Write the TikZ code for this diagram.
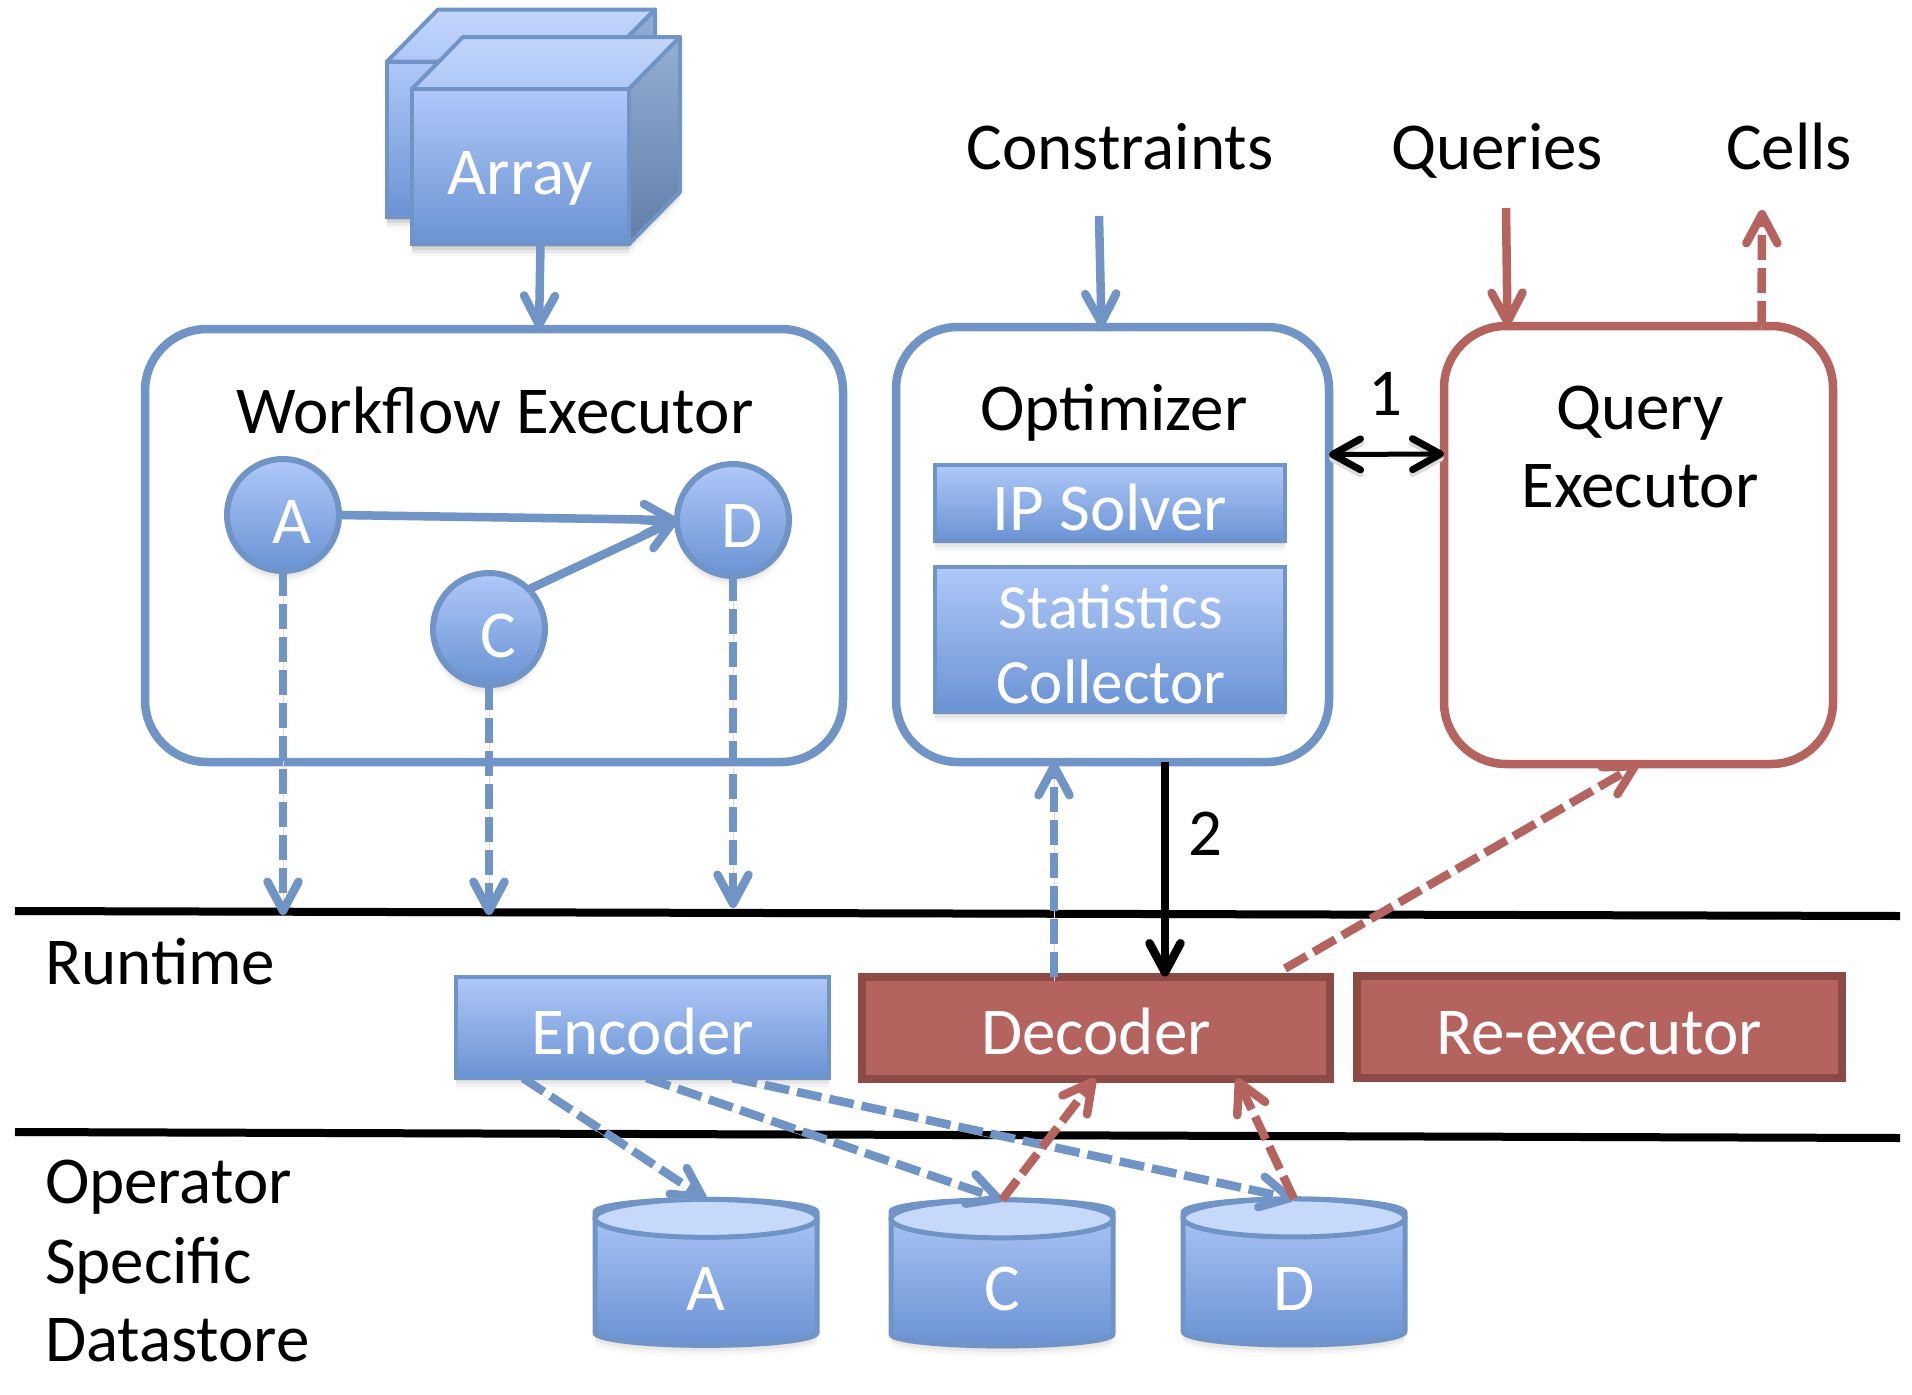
\documentclass[tikz,border=0pt]{standalone}
\usepackage{fontspec}
\setmainfont{Carlito}
\usetikzlibrary{arrows.meta,shadows,shapes.geometric}
\definecolor{blueline}{HTML}{7094C6}
\definecolor{bluetop}{HTML}{AFC8F8}
\definecolor{bluebot}{HTML}{6A93D4}
\definecolor{redline}{HTML}{B5635F}
\definecolor{redfill}{HTML}{B5635F}
\definecolor{reddark}{HTML}{8C4B47}
\begin{document}
\begin{tikzpicture}[x=1pt,y=-1pt,
    every node/.style={font=\fontsize{67}{78}\selectfont,inner sep=0pt,outer sep=0pt},
    softshadow/.style={
        drop shadow={shadow xshift=0pt,shadow yshift=-3pt,opacity=.14},
        drop shadow={shadow xshift=0pt,shadow yshift=-6pt,opacity=.10},
        drop shadow={shadow xshift=0pt,shadow yshift=-9pt,opacity=.06},
        drop shadow={shadow xshift=0pt,shadow yshift=-12pt,opacity=.03}},
    lift/.style={text height=#1,text depth=0pt},
    bluebox/.style={draw=blueline,line width=4pt,top color=bluetop,bottom color=bluebot,text=white,softshadow},
    redbox/.style={draw=reddark,line width=8pt,fill=redfill,text=white},
    roundbox/.style={draw=#1,line width=8.5pt,rounded corners=62pt,fill=white},
    blueball/.style={bluebox,line width=6pt,circle,minimum size=112pt,execute at begin node={\hspace*{18pt}}},
    bluedb/.style={bluebox,line width=5pt,cylinder,shape border rotate=90,aspect=.66,minimum width=222pt,minimum height=146pt},
    tipbarb/.style={-{Straight Barb[length=29pt,width=31pt,round]}},
    linesoft/.style={preaction={draw=black!14,transform canvas={yshift=-4pt}}},
    flow/.style={draw=#1,line width=8.5pt,tipbarb,linesoft},
    flowdash/.style={flow=#1,dash pattern=on 25pt off 8pt},
    rule/.style={draw=black,line width=8pt,linesoft},
]
    \useasboundingbox (0,0) rectangle (1912,1395);

    % free ends
    \coordinate (runl) at (15,911);
    \coordinate (runr) at (1900,916);
    \coordinate (opl) at (15,1132);
    \coordinate (opr) at (1900,1138);
    \coordinate (constrend) at (1099,216);
    \coordinate (queryend) at (1506,208);
    \coordinate (cellend) at (1762,210);
    \coordinate (tipa) at (283,915);
    \coordinate (tipc) at (489,915);
    \coordinate (tipd) at (733,908);

    % array cubes
    \foreach \cubex/\cubey/\cubename/\cubetext in {495.5/139/arrayback/,520.5/166.5/array/Array} {
        \path[softshadow] (\cubex-108.5,\cubey-77.5) -- ++(51,-52) -- ++(217,0) -- ++(0,155) -- ++(-51,52) -- ++(-217,0) -- cycle;
        \node[bluebox,lift=55pt,minimum width=217pt,minimum height=155pt] (\cubename) at (\cubex,\cubey) {\cubetext};
        \shade[draw=blueline,line width=4pt,line join=round,top color=bluetop!75!white,bottom color=bluetop] (\cubename.north west) -- ++(51,-52) -- ++(217,0) -- ++(-51,52) -- cycle;
        \shade[draw=blueline,line width=4pt,line join=round,top color=blueline!75!white,bottom color=blueline!85!black] (\cubename.north east) -- ++(51,-52) -- ++(0,155) -- ++(-51,52) -- cycle;
    }

    % main blocks
    \node[roundbox=blueline] (we) at (494,545.5) [minimum width=698pt,minimum height=433pt] {};
    \node[roundbox=blueline] (opt) at (1112.5,544.5) [minimum width=433pt,minimum height=435pt] {};
    \node[roundbox=redline] (qry) at (1638.5,545) [minimum width=389pt,minimum height=438pt] {};
    \node[anchor=base] (wetext) at (495,433) {Workflow Executor};
    \node[anchor=base] (opttext) at (1114,430) {Optimizer};
    \node[anchor=base] (qrytexta) at (1640,429) {Query};
    \node[anchor=base] (qrytextb) at (1640,507) {Executor};

    % inner blocks
    \node[bluebox,lift=55pt,minimum width=350pt,minimum height=76pt] (ip) at (1110,503) {IP Solver};
    \node[bluebox,minimum width=350pt,minimum height=145pt] (stat) at (1110,639.5) {};
    \node[anchor=base,text=white,font=\fontsize{63}{74}\selectfont] (stata) at (1111,628) {Statistics};
    \node[anchor=base,text=white,font=\fontsize{63}{74}\selectfont] (statb) at (1111,703) {Collector};

    % workflow graph
    \node[blueball,lift=56pt] (a) at (283,515) {A};
    \node[blueball,lift=54pt] (d) at (733,520) {D};
    \node[blueball,lift=56pt] (c) at (489,629) {C};

    % runtime and datastore boxes
    \node[bluebox,lift=54pt,minimum width=373pt,minimum height=101pt] (enc) at (642.5,1027.5) {Encoder};
    \node[redbox,lift=54pt,minimum width=468pt,minimum height=102pt] (dec) at (1096,1027.5) {Decoder};
    \node[redbox,lift=54pt,minimum width=485pt,minimum height=102pt] (reex) at (1599,1027) {Re-executor};
    \foreach \dbx/\dbname/\dbtext in {706/dba/A,1002/dbc/C,1294/dbd/D} {
        \node[bluedb,lift=61pt] (\dbname) at (\dbx,1280) {\dbtext};
        \fill[draw=blueline,line width=5pt,fill=bluetop!70!white] (\dbname.north) ++(0,19) ellipse[x radius=111,y radius=19];
    }

    % outside labels
    \node[anchor=base] (constr) at (1120,169) {Constraints};
    \node[anchor=base] (queries) at (1497,169) {Queries};
    \node[anchor=base] (cells) at (1789,169) {Cells};
    \node[anchor=base] (one) at (1385,415) {1};
    \node[anchor=base] (two) at (1205,855) {2};
    \node[anchor=base west] (runtime) at (45,984) {Runtime};
    \node[anchor=base west] (opera) at (45,1203) {Operator};
    \node[anchor=base west] (operb) at (45,1283) {Specific};
    \node[anchor=base west] (operc) at (45,1361) {Datastore};

    % separators
    \draw[rule] (runl) -- (runr);
    \draw[rule] (opl) -- (opr);

    % workflow edges
    \draw[flow=blueline] ([xshift=20pt]array.south) -- ([xshift=45pt]we.north);
    \draw[flow=blueline] (a.east) -- (d.west);
    \draw[flow=blueline] (c.45) -- (d.west);
    \draw[flowdash=blueline] (a.south) -- (tipa);
    \draw[flowdash=blueline] (c.south) -- (tipc);
    \draw[flowdash=blueline] (d.south) -- (tipd);

    % inputs and results
    \draw[flow=blueline] (constrend) -- ([xshift=-11pt]opt.north);
    \draw[flow=redline] (queryend) -- ([xshift=-131pt]qry.north);
    \draw[flowdash=redline] ([xshift=123pt]qry.north) -- (cellend);

    % numbered steps
    \draw[flow=black,line width=5pt,{Straight Barb[length=28pt,width=31pt,round,line width=7pt]}-{Straight Barb[length=28pt,width=31pt,round,line width=7pt]}] ([yshift=90pt]opt.east) -- ([yshift=91pt]qry.west);
    \draw[flow=black] ([xshift=52.5pt]opt.south) -- ([xshift=69pt]dec.north);

    % runtime feedback
    \draw[flowdash=blueline] ([xshift=-42pt]dec.north) -- ([xshift=-58.5pt]opt.south);
    \draw[flowdash=redline] ([xshift=189pt,yshift=8pt]dec.north) -- (qry.south);

    % datastore edges
    \draw[flowdash=blueline] ([xshift=-119.5pt]enc.south) -- (dba.north);
    \draw[flowdash=blueline] ([xshift=4pt]enc.south) -- (dbc.north);
    \draw[flowdash=blueline] ([xshift=90pt]enc.south) -- (dbd.north);
    \draw[flowdash=redline] (dbc.north) -- ([xshift=-1pt]dec.south);
    \draw[flowdash=redline] (dbd.north) -- ([xshift=141pt]dec.south);
\end{tikzpicture}
\end{document}
